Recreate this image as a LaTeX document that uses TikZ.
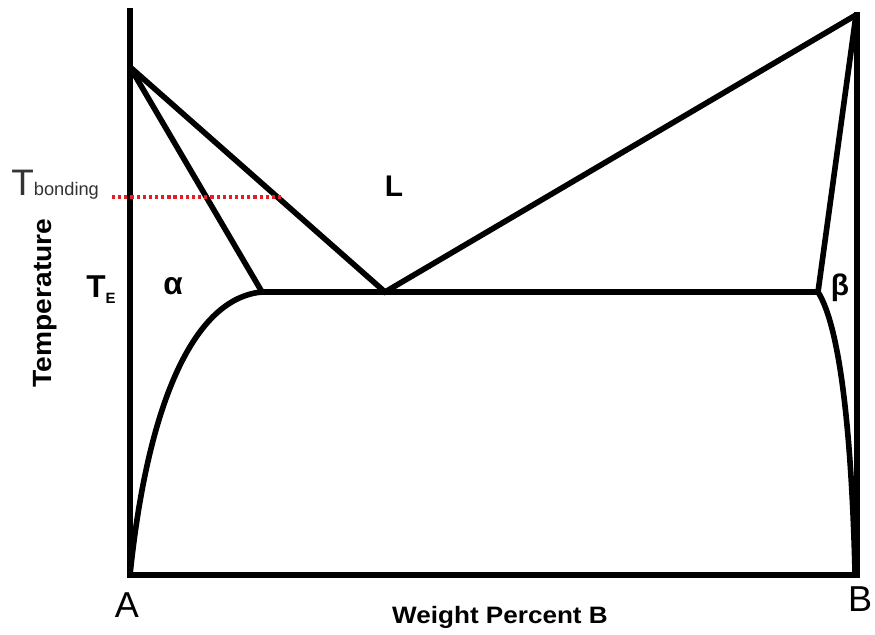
\documentclass[tikz,border=0pt]{standalone}
\usepackage{fontspec}
\setmainfont{Liberation Sans}
\definecolor{bondred}{RGB}{226,30,38}
\begin{document}
\begin{tikzpicture}[x=0.02cm,y=-0.02cm,
  phase/.style={line width=3.2pt, line cap=butt, line join=miter},
  bondline/.style={color=bondred, line width=2pt, dash pattern=on 1.8pt off 1.7pt},
  lbl/.style={inner sep=0pt, font=\bfseries}]
\useasboundingbox (0,0) rectangle (875,635);
% key points
\coordinate (Atop) at (130,8);
\coordinate (A0) at (130,575);
\coordinate (B0) at (857,575);
\coordinate (Btop) at (857,12);
\coordinate (TmA) at (130,67);
\coordinate (TmB) at (856,15);
\coordinate (Eut) at (385,292);
\coordinate (Sa) at (262,292);
\coordinate (Sb) at (818,292);
\coordinate (Bbot) at (855,572);
\coordinate (Tb0) at (112,197);
\coordinate (Tb1) at (283,197);
% axes
\draw[phase] (Atop) -- (A0) -- (B0) -- (Btop);
% liquidus
\draw[phase] (TmA) -- (Eut) -- (TmB);
% solidus and eutectic line
\draw[phase] (TmA) -- (Sa) -- (Sb) -- (TmB);
% solvus curves
\draw[phase] (A0) .. controls (148,400) and (195,298) .. (Sa);
\draw[phase] (Sb) .. controls (842,330) and (852,450) .. (Bbot);
% bonding temperature
\draw[bondline] (Tb0) -- (Tb1);
% labels
\node[inner sep=0pt, anchor=base west, text=black!80] (tbond) at (11,195)
  {\fontsize{21}{21}\selectfont T\fontsize{10.4}{11}\selectfont bonding};
\node[lbl, anchor=base west] (te) at (86,297)
  {\fontsize{18}{18}\selectfont T\raisebox{-3.5pt}{\fontsize{8.5}{9}\selectfont E}};
\node[lbl] (alpha) at (173,286) {\fontsize{18}{18}\selectfont α};
\node[lbl] (beta) at (840,288) {\fontsize{17}{17}\selectfont β};
\node[lbl] (liq) at (394,186) {\fontsize{17}{17}\selectfont L};
\node[lbl, rotate=90] (temp) at (45,303)
  {\scalebox{1.07}[1]{\fontsize{15}{15}\selectfont Temperature}};
\node[lbl] (wpb) at (500,617)
  {\scalebox{1.1}[1]{\fontsize{13.5}{14}\selectfont Weight Percent B}};
\node[inner sep=0pt] (labA) at (127,605) {\fontsize{20.5}{21}\selectfont A};
\node[inner sep=0pt] (labB) at (860,599) {\fontsize{20.5}{21}\selectfont B};
\end{tikzpicture}
\end{document}
